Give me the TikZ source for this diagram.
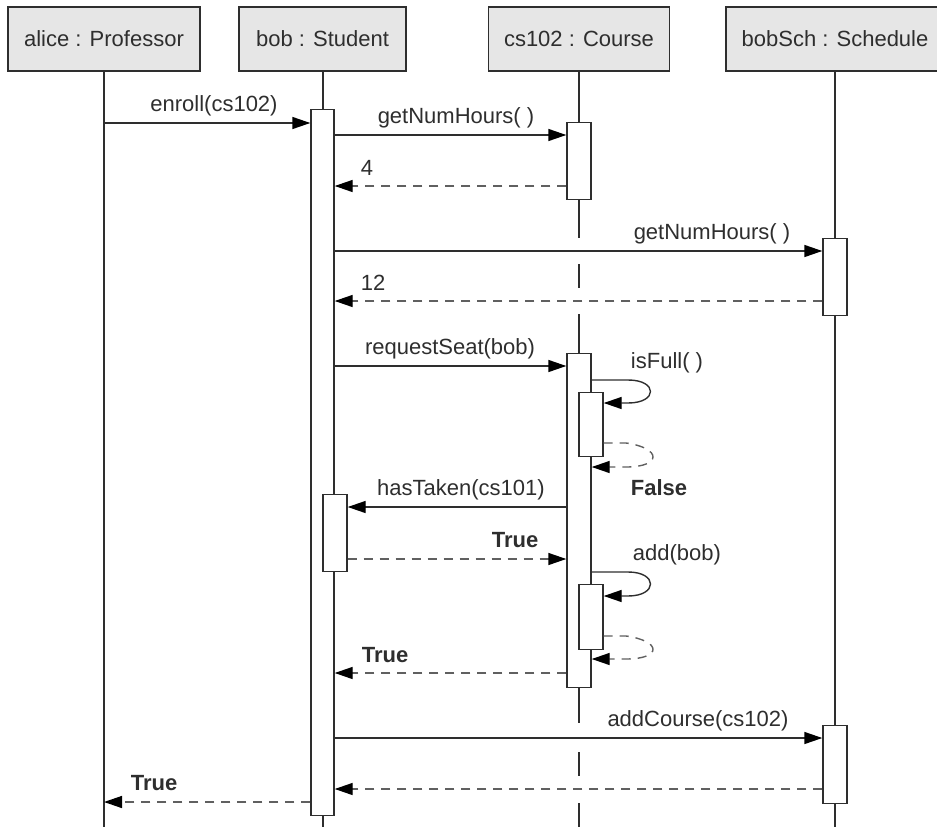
\documentclass[tikz,border=0pt]{standalone}
\usepackage{fontspec}
\setmainfont{Liberation Sans}
\usetikzlibrary{arrows.meta}
\definecolor{ink}{HTML}{2E2E2E}
\definecolor{retline}{HTML}{606060}
\definecolor{headfill}{HTML}{E6E6E6}
\begin{document}
\begin{tikzpicture}[x=1pt,y=-1pt,
  txt/.style={font=\fontsize{22}{26}\selectfont, text=ink, inner sep=0pt},
  btxt/.style={font=\fontsize{22}{26}\selectfont\bfseries, text=ink, inner sep=0pt},
  objhead/.style={draw=ink, line width=1.4pt, fill=headfill, minimum height=64pt,
                  inner sep=0pt, txt},
  actbox/.style={draw=ink, line width=1.4pt, fill=white, inner sep=0pt,
                 minimum width=24pt, anchor=north},
  lifeline/.style={draw=ink, line width=2pt},
  call/.style={draw=ink, line width=1.4pt, -{Triangle[length=18pt,width=12pt,color=black]}},
  reply/.style={draw=retline, line width=1.4pt, dash pattern=on 9pt off 7pt,
                -{Triangle[length=18pt,width=12pt,color=black]}},
  lbl/.style={txt, anchor=base},
  blbl/.style={btxt, anchor=base}]
\useasboundingbox (0,0) rectangle (937,827);

% object headers
\node[objhead, minimum width=192pt] (alice)  at (104,39)   {alice : Professor};
\node[objhead, minimum width=167pt] (bob)    at (322.5,39) {bob : Student};
\node[objhead, minimum width=181pt] (course) at (579,39)   {cs102 : Course};
\node[objhead, minimum width=218pt] (sched)  at (835,39)   {bobSch : Schedule};

% lifeline ends
\coordinate (aliceEnd)  at (104,827);
\coordinate (bobEnd)    at (322.5,827);
\coordinate (courseEnd) at (579,827);
\coordinate (schedEnd)  at (835,827);

% lifelines (drawn below the activation boxes)
\draw[lifeline] (alice.south) -- (aliceEnd);
\draw[lifeline] (bob.south) -- (bobEnd);
\draw[lifeline] (sched.south) -- (schedEnd);
\draw[lifeline] (course.south) -- (course.south |- 0,238)
                (course.south |- 0,264) -- (course.south |- 0,288)
                (course.south |- 0,314) -- (course.south |- 0,723)
                (course.south |- 0,752) -- (course.south |- 0,776)
                (course.south |- 0,803) -- (courseEnd);

% activation boxes
\node[actbox, minimum width=23pt, minimum height=706pt] (bobA)  at (322.5,109) {};
\node[actbox, minimum height=77pt]  (crsA)  at (579,122) {};
\node[actbox, minimum height=77pt]  (schA)  at (835,238) {};
\node[actbox, minimum height=334pt] (crsB)  at (579,353) {};
\node[actbox, minimum height=64pt]  (crsB1) at (591,392) {};
\node[actbox, minimum height=77pt]  (bobB)  at (335,494) {};
\node[actbox, minimum height=65pt]  (crsB2) at (591,584) {};
\node[actbox, minimum height=78pt]  (schB)  at (835,725) {};

% messages
\draw[call] (alice.south |- 0,123) -- (bobA.west |- 0,123);
\node[lbl] (mEnroll) at (214,111) {enroll(cs102)};

\draw[call] (bobA.east |- 0,135) -- (crsA.west |- 0,135);
\node[lbl] (mHours1) at (456,123) {getNumHours( )};
\draw[reply] (crsA.west |- 0,186) -- (bobA.east |- 0,186);
\node[lbl] (r4) at (367,175) {4};

\draw[call] (bobA.east |- 0,251) -- (schA.west |- 0,251);
\node[lbl] (mHours2) at (712,239) {getNumHours( )};
\draw[reply] (schA.west |- 0,301) -- (bobA.east |- 0,301);
\node[lbl] (r12) at (373,290) {12};

\draw[call] (bobA.east |- 0,366) -- (crsB.west |- 0,366);
\node[lbl] (mSeat) at (450,354) {requestSeat(bob)};

% isFull() self call and its reply
\draw[call] (crsB.east |- 0,380) -- (628,380)
            .. controls (658,380) and (658,403) .. (628,403) -- (crsB1.east |- 0,403);
\node[lbl] (mFull) at (667,368) {isFull( )};
\draw[reply] (crsB1.east |- 0,443) -- (626,443)
            .. controls (662,448) and (662,467) .. (626,467) -- (crsB.east |- 0,467);
\node[blbl] (rFalse) at (659,495) {False};

\draw[call] (crsB.west |- 0,507) -- (bobB.east |- 0,507);
\node[lbl] (mTaken) at (461,495) {hasTaken(cs101)};
\draw[reply] (bobB.east |- 0,559) -- (crsB.west |- 0,559);
\node[blbl] (rTrue1) at (515,547) {True};

% add() self call and its reply
\draw[call] (crsB.east |- 0,572) -- (628,572)
            .. controls (658,572) and (658,596) .. (628,596) -- (crsB2.east |- 0,596);
\node[lbl] (mAdd) at (677,560) {add(bob)};
\draw[reply] (crsB2.east |- 0,636) -- (626,636)
            .. controls (662,641) and (662,659) .. (626,659) -- (crsB.east |- 0,659);

\draw[reply] (crsB.west |- 0,673) -- (bobA.east |- 0,673);
\node[blbl] (rTrue2) at (385,662) {True};

\draw[call] (bobA.east |- 0,738) -- (schB.west |- 0,738);
\node[lbl] (mAddC) at (698,726) {addCourse(cs102)};
\draw[reply] (schB.west |- 0,789) -- (bobA.east |- 0,789);

\draw[reply] (bobA.west |- 0,802) -- (alice.south |- 0,802);
\node[blbl] (rTrue3) at (154,790) {True};
\end{tikzpicture}
\end{document}
